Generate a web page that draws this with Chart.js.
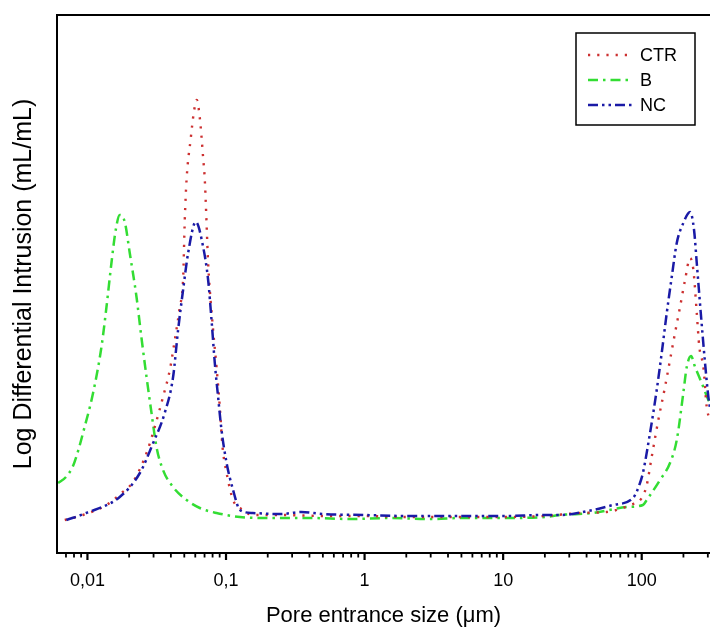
<!DOCTYPE html>
<html>
<head>
<meta charset="utf-8">
<script src="https://cdn.jsdelivr.net/npm/chart.js@4/dist/chart.umd.min.js"></script>
<style>
  html, body { margin: 0; padding: 0; background: #fff; }
  #wrap { width: 710px; height: 630px; position: relative; }
</style>
</head>
<body>
<div id="wrap"><canvas id="c" width="710" height="630"></canvas></div>
<script>
// ---- Data (pore entrance size in µm, log differential intrusion in relative units) ----
const seriesNames = ['CTR', 'B', 'NC'];

const ctrX = [0.00686, 0.00929, 0.01372, 0.0176, 0.0213, 0.0267, 0.0306, 0.0351, 0.0393, 0.0427, 0.0464, 0.0490, 0.0504, 0.0519, 0.0557, 0.0585, 0.0615, 0.0647, 0.0684, 0.0703, 0.0743, 0.0764, 0.0807, 0.0854, 0.0902, 0.0944, 0.101, 0.1125, 0.133, 0.156, 0.25, 0.5, 1, 2, 5, 10, 20, 35.9, 55.8, 82.4, 100, 108.7, 118, 131.8, 147.2, 160, 173.9, 189, 205.5, 223.4, 236, 249.6, 260.5, 278.6, 294.5, 311];
const ctrY = [33, 38, 48, 60, 71, 100, 126, 156, 183, 213, 246, 273, 333, 373, 415, 440, 453, 435, 395, 373, 290, 263, 223, 186, 146, 106, 80, 53, 43, 38, 38, 37, 37, 36, 36, 36, 37, 40, 41, 48, 55, 68, 96, 133, 166, 193, 220, 246, 273, 295, 283, 240, 206, 186, 146, 133];

const bX = [0.00614, 0.0070, 0.00787, 0.00860, 0.00929, 0.01098, 0.01262, 0.01372, 0.0149, 0.0160, 0.0171, 0.0186, 0.0202, 0.0226, 0.0245, 0.0267, 0.0290, 0.0315, 0.0351, 0.0415, 0.0519, 0.0647, 0.0854, 0.126, 0.2, 0.4, 0.8, 1.5, 3, 5, 10, 20, 25.7, 44.5, 78.3, 102, 108.7, 135.5, 160, 179, 199.6, 211.3, 227, 242.6, 271, 302.7, 311];
const bY = [70, 76, 87, 103, 120, 160, 206, 246, 290, 323, 338, 331, 300, 256, 216, 176, 140, 106, 83, 66, 53, 45, 40, 36, 35, 35, 34, 35, 34, 35, 35, 36, 38, 40, 46, 48, 53, 73, 90, 113, 160, 186, 197, 186, 170, 153, 150];

const ncX = [0.00705, 0.0098, 0.0171, 0.0239, 0.0298, 0.0361, 0.0415, 0.0451, 0.0490, 0.0533, 0.0605, 0.0684, 0.0743, 0.0786, 0.0830, 0.0877, 0.0928, 0.101, 0.1125, 0.126, 0.156, 0.25, 0.35, 0.5, 1, 2, 5, 10, 20, 25.7, 44.5, 62.1, 86.5, 97.2, 102, 114.8, 128.3, 139.4, 151.6, 164.7, 179, 199.6, 223.4, 238.6, 249.6, 266.8, 286.4, 302.7, 311];
const ncY = [33, 40, 56, 80, 110, 140, 176, 223, 263, 300, 331, 306, 273, 233, 190, 156, 123, 90, 63, 43, 40, 39, 41, 39, 38, 37, 37, 37, 38, 38, 43, 48, 55, 70, 80, 120, 163, 200, 240, 276, 310, 330, 341, 323, 290, 240, 190, 156, 145];

const tickValues = [0.01, 0.1, 1, 10, 100];
const tickLabels = ['0,01', '0,1', '1', '10', '100'];

const xMin = 0.00603, xMax = 311;
const yMin = 0, yMax = 538;

function pts(xs, ys) { return xs.map((x, i) => ({ x: x, y: ys[i] })); }

const FONT = "'Liberation Sans', Arial, sans-serif";

// frame, minor/major ticks and legend box
const framePlugin = {
  id: 'frame',
  afterDraw(chart) {
    const ctx = chart.ctx, a = chart.chartArea, xs = chart.scales.x;
    ctx.save();
    ctx.strokeStyle = '#000';
    ctx.lineWidth = 2;
    ctx.beginPath();
    ctx.moveTo(a.right + 2, a.top); ctx.lineTo(a.left, a.top);
    ctx.lineTo(a.left, a.bottom); ctx.lineTo(a.right + 2, a.bottom);
    ctx.stroke();
    // ticks
    xs.ticks.forEach(t => {
      const px = xs.getPixelForValue(t.value);
      if (px < a.left - 1 || px > a.right + 1) return;
      const lg = Math.log10(t.value);
      const major = Math.abs(lg - Math.round(lg)) < 1e-6;
      ctx.lineWidth = major ? 2.2 : 1.8;
      ctx.beginPath();
      ctx.moveTo(px, a.bottom);
      ctx.lineTo(px, a.bottom + (major ? 7 : 4.5));
      ctx.stroke();
    });
    // legend
    const bx = 576, by = 33, bw = 119, bh = 92;
    ctx.lineWidth = 1.5;
    ctx.strokeStyle = '#000';
    ctx.strokeRect(bx, by, bw, bh);
    const rows = [55, 80, 105];
    chart.data.datasets.forEach((ds, i) => {
      ctx.save();
      ctx.strokeStyle = ds.borderColor;
      ctx.lineWidth = ds.borderWidth;
      ctx.setLineDash(ds.borderDash || []);
      ctx.beginPath();
      ctx.moveTo(588, rows[i]);
      ctx.lineTo(633, rows[i]);
      ctx.stroke();
      ctx.restore();
      ctx.fillStyle = '#000';
      ctx.font = '18px ' + FONT;
      ctx.textBaseline = 'middle';
      ctx.fillText(ds.label, 640, rows[i] + 1);
    });
    ctx.restore();
  }
};

new Chart(document.getElementById('c'), {
  type: 'scatter',
  data: {
    datasets: [
      { label: seriesNames[0], data: pts(ctrX, ctrY), borderColor: '#cc3030', borderWidth: 2.4, borderDash: [2.2, 7], showLine: true, pointRadius: 0, cubicInterpolationMode: 'monotone', order: 2 },
      { label: seriesNames[1], data: pts(bX, bY), borderColor: '#33dd33', borderWidth: 2.5, borderDash: [10, 5, 2.5, 5], showLine: true, pointRadius: 0, cubicInterpolationMode: 'monotone', order: 3 },
      { label: seriesNames[2], data: pts(ncX, ncY), borderColor: '#1a1aa6', borderWidth: 2.5, borderDash: [10, 4, 2.5, 4, 2.5, 4], showLine: true, pointRadius: 0, cubicInterpolationMode: 'monotone', order: 1 }
    ]
  },
  options: {
    responsive: false,
    animation: false,
    devicePixelRatio: 1,
    layout: { padding: { left: 0, right: 0, top: 15, bottom: 0 } },
    plugins: { legend: { display: false }, tooltip: { enabled: false } },
    scales: {
      x: {
        type: 'logarithmic',
        min: xMin, max: xMax,
        afterBuildTicks(scale) {
          const t = [];
          for (let e = -3; e <= 3; e++) {
            for (let m = 1; m <= 9; m++) {
              const v = m * Math.pow(10, e);
              if (v >= xMin && v <= xMax) t.push({ value: v });
            }
          }
          scale.ticks = t;
        },
        afterFit(scale) { scale.height = 77; scale.paddingLeft = 0; scale.paddingRight = 0; },
        ticks: {
          autoSkip: false, maxRotation: 0, minRotation: 0, padding: 10,
          color: '#000', font: { size: 18, family: FONT },
          callback(v) {
            for (let i = 0; i < tickValues.length; i++) {
              if (Math.abs(Math.log10(v) - Math.log10(tickValues[i])) < 1e-6) return tickLabels[i];
            }
            return '';
          }
        },
        grid: { display: true, drawOnChartArea: false, color: 'rgba(0,0,0,0)', tickLength: 7 },
        border: { display: false },
        title: { display: true, text: 'Pore entrance size (\u03bcm)', color: '#000', font: { size: 22, family: FONT }, padding: { top: 0, bottom: 1 } }
      },
      y: {
        type: 'linear',
        min: yMin, max: yMax,
        afterFit(scale) { scale.width = 57; },
        ticks: { display: false },
        grid: { display: false },
        border: { display: false },
        title: { display: true, text: 'Log Differential Intrusion (mL/mL)', color: '#000', font: { size: 25, family: FONT }, padding: { top: 9, bottom: 0 } }
      }
    }
  },
  plugins: [framePlugin]
});
</script>
</body>
</html>
